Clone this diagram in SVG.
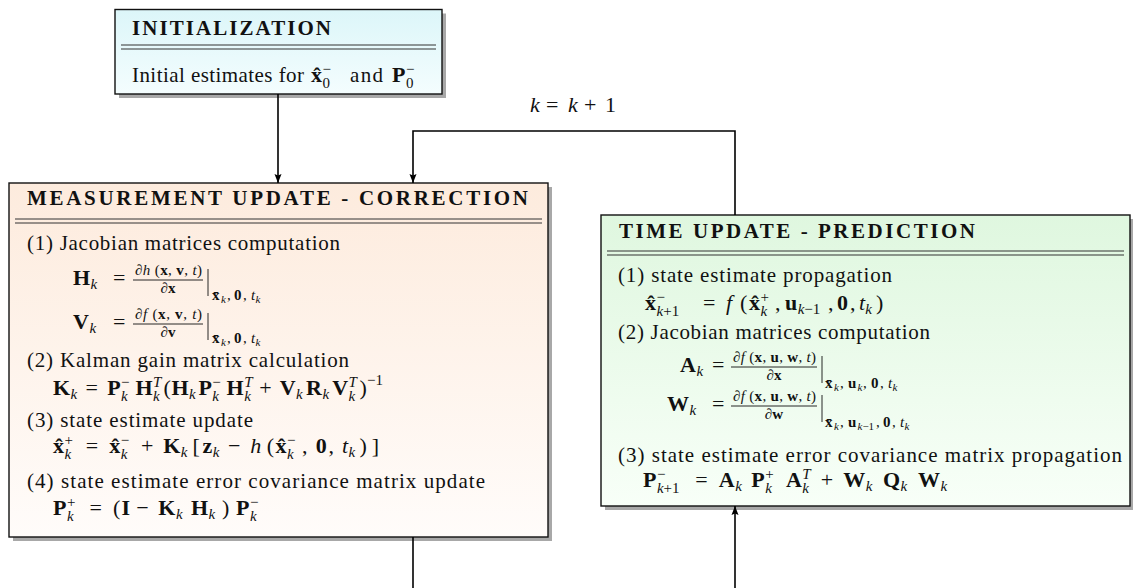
<svg xmlns="http://www.w3.org/2000/svg" width="1133" height="588" viewBox="0 0 1133 588" font-family="'Liberation Serif', 'DejaVu Serif', 'Noto Serif', serif">
<defs>
<linearGradient id="gInit" x1="0" y1="0" x2="0" y2="1"><stop offset="0" stop-color="#dcf6f9"/><stop offset="1" stop-color="#f4fdfe"/></linearGradient>
<linearGradient id="gMeas" x1="0" y1="0" x2="0" y2="1"><stop offset="0" stop-color="#fdebdd"/><stop offset="1" stop-color="#fffcfa"/></linearGradient>
<linearGradient id="gTime" x1="0" y1="0" x2="0" y2="1"><stop offset="0" stop-color="#dff7df"/><stop offset="1" stop-color="#f8fff8"/></linearGradient>
<marker id="arr" markerUnits="userSpaceOnUse" markerWidth="10" markerHeight="8" refX="9" refY="4" orient="auto"><path d="M0,0.5 L9,4 L0,7.5 L1.5,4 Z" fill="#000"/></marker>
<style>
text{font-family:'Liberation Serif','DejaVu Serif','Noto Serif',serif}
.t{fill:#111}
.n{font-size:21px}
.h{font-size:21px;font-weight:bold}
.mb{font-size:22px;font-weight:bold}
.mr{font-size:22px}
.mi{font-size:22px;font-style:italic}
.sb{font-size:15px;font-weight:bold}
.sr{font-size:15px}
.si{font-size:15px;font-style:italic}
.xi{font-size:11px;font-style:italic}
.xr{font-size:11px}
.box{stroke:#111;stroke-width:1.4}
.sh{fill:#a8a8a8}
.rule{stroke:#333;stroke-width:1.1}
.fb{stroke:#111;stroke-width:0.9}
.con{fill:none;stroke:#000;stroke-width:1.6}
</style>
</defs>
<rect width="1133" height="588" fill="#fff"/>

<g id="init">
<rect class="sh" x="119" y="13.5" width="327" height="84.5"/>
<rect class="box" x="115" y="9.5" width="327" height="84.5" fill="url(#gInit)"/>
<text class="t h" x="132" y="35" textLength="199" lengthAdjust="spacing">INITIALIZATION</text>
<line class="rule" x1="121" y1="45" x2="436" y2="45"/>
<line class="rule" x1="121" y1="49" x2="436" y2="49"/>
<text class="t n" x="132" y="82" textLength="172" lengthAdjust="spacing">Initial estimates for</text>
<text class="t"><tspan class="mb" x="311" y="82">x̂</tspan><tspan class="sr" x="322.5" y="74">−</tspan><tspan class="sr" x="322.5" y="88">0</tspan></text>
<text class="t n" x="350" y="82" textLength="33" lengthAdjust="spacing">and</text>
<text class="t"><tspan class="mb" x="392" y="82">P</tspan><tspan class="sr" x="406" y="74">−</tspan><tspan class="sr" x="406" y="88">0</tspan></text>
</g>

<g id="meas">
<rect class="sh" x="13" y="187" width="539" height="354"/>
<rect class="box" x="9" y="183" width="539" height="354" fill="url(#gMeas)"/>
<text class="t h" x="27" y="205" textLength="501" lengthAdjust="spacing">MEASUREMENT UPDATE - CORRECTION</text>
<line class="rule" x1="15" y1="219" x2="542" y2="219"/>
<line class="rule" x1="15" y1="223" x2="542" y2="223"/>
<text class="t n" x="27" y="250" textLength="313" lengthAdjust="spacing">(1) Jacobian matrices computation</text>
<text class="t"><tspan class="mb" x="73" y="285">H</tspan><tspan class="si" x="90.6" y="289">k</tspan><tspan class="mr" x="113" y="285">=</tspan></text>
<text class="t sr" x="135" y="275" textLength="67" lengthAdjust="spacing"><tspan class="si">∂h</tspan> (<tspan class="sb">x</tspan>, <tspan class="sb">v</tspan>, <tspan class="si">t</tspan>)</text>
<line class="fb" x1="133" y1="280" x2="203" y2="280"/>
<text class="t" x="168" y="293" text-anchor="middle"><tspan class="si">∂</tspan><tspan class="sb">x</tspan></text>
<line class="fb" x1="208" y1="269" x2="208" y2="296"/>
<text class="t"><tspan class="sb" x="212" y="300">x̄</tspan><tspan class="xi" x="221" y="303">k</tspan><tspan class="sr" x="227" y="300">,</tspan><tspan class="sb" x="234" y="300">0</tspan><tspan class="sr" x="243" y="300">,</tspan><tspan class="si" x="251" y="300">t</tspan><tspan class="xi" x="255.5" y="303">k</tspan></text>
<text class="t"><tspan class="mb" x="73" y="329">V</tspan><tspan class="si" x="89.5" y="333">k</tspan><tspan class="mr" x="113" y="329">=</tspan></text>
<text class="t sr" x="135" y="319" textLength="67" lengthAdjust="spacing"><tspan class="si">∂f</tspan> (<tspan class="sb">x</tspan>, <tspan class="sb">v</tspan>, <tspan class="si">t</tspan>)</text>
<line class="fb" x1="133" y1="324" x2="203" y2="324"/>
<text class="t" x="168" y="337" text-anchor="middle"><tspan class="si">∂</tspan><tspan class="sb">v</tspan></text>
<line class="fb" x1="208" y1="313" x2="208" y2="340"/>
<text class="t"><tspan class="sb" x="212" y="343">x̄</tspan><tspan class="xi" x="221" y="345.5">k</tspan><tspan class="sr" x="227" y="343">,</tspan><tspan class="sb" x="234" y="343">0</tspan><tspan class="sr" x="243" y="343">,</tspan><tspan class="si" x="251" y="343">t</tspan><tspan class="xi" x="255.5" y="345.5">k</tspan></text>
<text class="t n" x="27" y="367" textLength="322" lengthAdjust="spacing">(2) Kalman gain matrix calculation</text>
<text class="t"><tspan class="mb" x="53" y="395">K</tspan><tspan class="si" x="70.6" y="399">k</tspan><tspan class="mr" x="85.6" y="395">=</tspan><tspan class="mb" x="107.2" y="395">P</tspan><tspan class="sr" x="121.1" y="387">−</tspan><tspan class="si" x="121.1" y="401">k</tspan><tspan class="mb" x="135.4" y="395">H</tspan><tspan class="si" x="153" y="387">T</tspan><tspan class="si" x="153" y="401">k</tspan><tspan class="mr" x="163.4" y="395">(</tspan><tspan class="mb" x="171.4" y="395">H</tspan><tspan class="si" x="189" y="399">k</tspan><tspan class="mb" x="198.4" y="395">P</tspan><tspan class="sr" x="212.3" y="387">−</tspan><tspan class="si" x="212.3" y="401">k</tspan><tspan class="mb" x="226.6" y="395">H</tspan><tspan class="si" x="244.2" y="387">T</tspan><tspan class="si" x="244.2" y="401">k</tspan><tspan class="mr" x="259.2" y="395">+</tspan><tspan class="mb" x="279.7" y="395">V</tspan><tspan class="si" x="296.1" y="399">k</tspan><tspan class="mb" x="306" y="395">R</tspan><tspan class="si" x="322.4" y="399">k</tspan><tspan class="mb" x="332.2" y="395">V</tspan><tspan class="si" x="348.6" y="387">T</tspan><tspan class="si" x="348.6" y="401">k</tspan><tspan class="mr" x="359.5" y="395">)</tspan><tspan class="sr" x="367" y="385">−1</tspan></text>
<text class="t n" x="27" y="427" textLength="226" lengthAdjust="spacing">(3) state estimate update</text>
<text class="t"><tspan class="mb" x="53" y="453">x̂</tspan><tspan class="sr" x="64.5" y="445">+</tspan><tspan class="si" x="64.5" y="459">k</tspan><tspan class="mr" x="85.8" y="453">=</tspan><tspan class="mb" x="109.3" y="453">x̂</tspan><tspan class="sr" x="120.8" y="445">−</tspan><tspan class="si" x="120.8" y="459">k</tspan><tspan class="mr" x="140.9" y="453">+</tspan><tspan class="mb" x="163.2" y="453">K</tspan><tspan class="si" x="180.8" y="457">k</tspan><tspan class="mr" x="192.5" y="453">[</tspan><tspan class="mb" x="202.4" y="453">z</tspan><tspan class="si" x="212.7" y="457">k</tspan><tspan class="mr" x="228" y="453">−</tspan><tspan class="mi" x="250.3" y="453">h</tspan><tspan class="mr" x="266.8" y="453">(</tspan><tspan class="mb" x="275.5" y="453">x̂</tspan><tspan class="sr" x="287" y="445">−</tspan><tspan class="si" x="287" y="459">k</tspan><tspan class="mr" x="302.1" y="453">,</tspan><tspan class="mb" x="315.7" y="453">0</tspan><tspan class="mr" x="328.6" y="453">,</tspan><tspan class="mi" x="342.1" y="453">t</tspan><tspan class="si" x="348.5" y="457">k</tspan><tspan class="mr" x="359.4" y="453">)</tspan><tspan class="mr" x="371.8" y="453">]</tspan></text>
<text class="t n" x="27" y="488" textLength="458" lengthAdjust="spacing">(4) state estimate error covariance matrix update</text>
<text class="t"><tspan class="mb" x="53" y="515">P</tspan><tspan class="sr" x="66.9" y="507">+</tspan><tspan class="si" x="66.9" y="521">k</tspan><tspan class="mr" x="89.6" y="515">=</tspan><tspan class="mr" x="113" y="515">(</tspan><tspan class="mb" x="121.6" y="515">I</tspan><tspan class="mr" x="136.2" y="515">−</tspan><tspan class="mb" x="158.3" y="515">K</tspan><tspan class="si" x="175.9" y="519">k</tspan><tspan class="mb" x="191" y="515">H</tspan><tspan class="si" x="208.6" y="519">k</tspan><tspan class="mr" x="222" y="515">)</tspan><tspan class="mb" x="236" y="515">P</tspan><tspan class="sr" x="249.9" y="507">−</tspan><tspan class="si" x="249.9" y="521">k</tspan></text>
</g>

<g id="time">
<rect class="sh" x="605" y="219" width="529" height="291"/>
<rect class="box" x="601" y="215" width="529" height="291" fill="url(#gTime)"/>
<text class="t h" x="619" y="238" textLength="356" lengthAdjust="spacing">TIME UPDATE - PREDICTION</text>
<line class="rule" x1="607" y1="251" x2="1124" y2="251"/>
<line class="rule" x1="607" y1="255" x2="1124" y2="255"/>
<text class="t n" x="618" y="282" textLength="274" lengthAdjust="spacing">(1) state estimate propagation</text>
<text class="t"><tspan class="mb" x="645" y="310">x̂</tspan><tspan class="sr" x="656.5" y="302">−</tspan><tspan class="si" x="656.5" y="316">k</tspan><tspan class="sr">+1</tspan><tspan class="mr" x="703" y="310">=</tspan><tspan class="mi" x="726" y="310">f</tspan><tspan class="mr" x="740" y="310">(</tspan><tspan class="mb" x="749" y="310">x̂</tspan><tspan class="sr" x="760.5" y="302">+</tspan><tspan class="si" x="760.5" y="316">k</tspan><tspan class="mr" x="775" y="310">,</tspan><tspan class="mb" x="785" y="310">u</tspan><tspan class="si" x="797.7" y="314">k</tspan><tspan class="sr">−1</tspan><tspan class="mr" x="828" y="310">,</tspan><tspan class="mb" x="837" y="310">0</tspan><tspan class="mr" x="850" y="310">,</tspan><tspan class="mi" x="859" y="310">t</tspan><tspan class="si" x="865.3" y="314">k</tspan><tspan class="mr" x="876" y="310">)</tspan></text>
<text class="t n" x="618" y="339" textLength="312" lengthAdjust="spacing">(2) Jacobian matrices computation</text>
<text class="t"><tspan class="mb" x="680" y="372">A</tspan><tspan class="si" x="696.4" y="376">k</tspan><tspan class="mr" x="712" y="372">=</tspan></text>
<text class="t sr" x="733" y="362" textLength="83" lengthAdjust="spacing"><tspan class="si">∂f</tspan> (<tspan class="sb">x</tspan>, <tspan class="sb">u</tspan>, <tspan class="sb">w</tspan>, <tspan class="si">t</tspan>)</text>
<line class="fb" x1="731" y1="367" x2="817" y2="367"/>
<text class="t" x="774" y="380" text-anchor="middle"><tspan class="si">∂</tspan><tspan class="sb">x</tspan></text>
<line class="fb" x1="822" y1="356" x2="822" y2="383"/>
<text class="t"><tspan class="sb" x="825" y="388">x̄</tspan><tspan class="xi" x="834" y="391">k</tspan><tspan class="sr" x="840" y="388">,</tspan><tspan class="sb" x="848" y="388">u</tspan><tspan class="xi" x="857.5" y="391">k</tspan><tspan class="sr" x="863" y="388">,</tspan><tspan class="sb" x="871" y="388">0</tspan><tspan class="sr" x="880" y="388">,</tspan><tspan class="si" x="888" y="388">t</tspan><tspan class="xi" x="892.5" y="391">k</tspan></text>
<text class="t"><tspan class="mb" x="667" y="411">W</tspan><tspan class="si" x="689.5" y="415">k</tspan><tspan class="mr" x="712" y="411">=</tspan></text>
<text class="t sr" x="733" y="401" textLength="83" lengthAdjust="spacing"><tspan class="si">∂f</tspan> (<tspan class="sb">x</tspan>, <tspan class="sb">u</tspan>, <tspan class="sb">w</tspan>, <tspan class="si">t</tspan>)</text>
<line class="fb" x1="731" y1="406" x2="817" y2="406"/>
<text class="t" x="774" y="419" text-anchor="middle"><tspan class="si">∂</tspan><tspan class="sb">w</tspan></text>
<line class="fb" x1="822" y1="395" x2="822" y2="422"/>
<text class="t"><tspan class="sb" x="825" y="427">x̄</tspan><tspan class="xi" x="834" y="430">k</tspan><tspan class="sr" x="840" y="427">,</tspan><tspan class="sb" x="848" y="427">u</tspan><tspan class="xi" x="857.5" y="430">k</tspan><tspan class="xr">−1</tspan><tspan class="sr" x="876" y="427">,</tspan><tspan class="sb" x="883" y="427">0</tspan><tspan class="sr" x="892" y="427">,</tspan><tspan class="si" x="900" y="427">t</tspan><tspan class="xi" x="904.5" y="430">k</tspan></text>
<text class="t n" x="618" y="462" textLength="504" lengthAdjust="spacing">(3) state estimate error covariance matrix propagation</text>
<text class="t"><tspan class="mb" x="643" y="487">P</tspan><tspan class="sr" x="656.9" y="479">−</tspan><tspan class="si" x="656.9" y="493">k</tspan><tspan class="sr">+1</tspan><tspan class="mr" x="695.2" y="487">=</tspan><tspan class="mb" x="718.8" y="487">A</tspan><tspan class="si" x="735.2" y="491">k</tspan><tspan class="mb" x="751.3" y="487">P</tspan><tspan class="sr" x="765.2" y="479">+</tspan><tspan class="si" x="765.2" y="493">k</tspan><tspan class="mb" x="785.9" y="487">A</tspan><tspan class="si" x="802.3" y="479">T</tspan><tspan class="si" x="802.3" y="493">k</tspan><tspan class="mr" x="820.8" y="487">+</tspan><tspan class="mb" x="843.2" y="487">W</tspan><tspan class="si" x="865.7" y="491">k</tspan><tspan class="mb" x="882.9" y="487">Q</tspan><tspan class="si" x="900.5" y="491">k</tspan><tspan class="mb" x="918" y="487">W</tspan><tspan class="si" x="940.5" y="491">k</tspan></text>
</g>

<g id="connectors">
<line class="con" x1="278" y1="94" x2="278" y2="183" marker-end="url(#arr)"/>
<path class="con" d="M735,215 V131 H413 V183" marker-end="url(#arr)"/>
<line class="con" x1="413" y1="537" x2="413" y2="588"/>
<line class="con" x1="735" y1="588" x2="735" y2="506" marker-end="url(#arr)"/>
<text class="t"><tspan class="mi" x="530" y="112">k</tspan><tspan class="mr" x="546" y="112">=</tspan><tspan class="mi" x="568" y="112">k</tspan><tspan class="mr" x="584" y="112">+</tspan><tspan class="mr" x="605" y="112">1</tspan></text>
</g>
</svg>
